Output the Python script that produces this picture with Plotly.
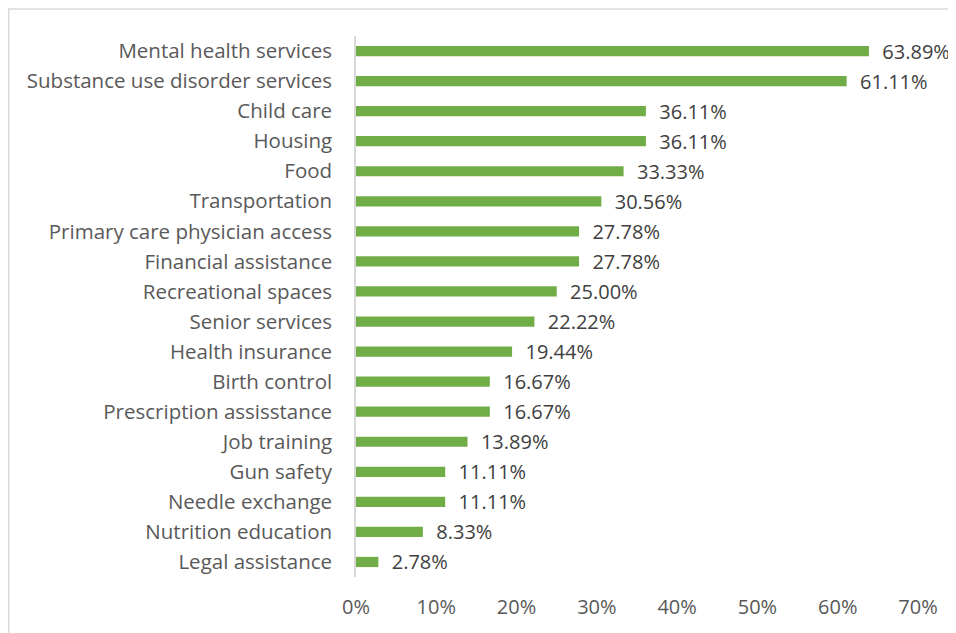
import plotly.graph_objects as go

categories = [
    'Mental health services', 'Substance use disorder services', 'Child care',
    'Housing', 'Food', 'Transportation', 'Primary care physician access',
    'Financial assistance', 'Recreational spaces', 'Senior services',
    'Health insurance', 'Birth control', 'Prescription assisstance',
    'Job training', 'Gun safety', 'Needle exchange', 'Nutrition education',
    'Legal assistance',
]
values = [63.89, 61.11, 36.11, 36.11, 33.33, 30.56, 27.78, 27.78, 25.00,
          22.22, 19.44, 16.67, 16.67, 13.89, 11.11, 11.11, 8.33, 2.78]
tick_vals = [0, 10, 20, 30, 40, 50, 60, 70]
tick_text = ['0%', '10%', '20%', '30%', '40%', '50%', '60%', '70%']

FONT = 'Open Sans'

fig = go.Figure()
fig.add_trace(go.Bar(
    x=values, y=categories, orientation='h',
    marker=dict(color='#70AD47', line=dict(width=0)),
    width=0.34,
    text=[f'{v:.2f}%' for v in values],
    texttemplate='  %{text}',
    textposition='outside',
    constraintext='none',
    textfont=dict(family=FONT, size=20, color='#404040'),
    cliponaxis=False,
))

fig.update_layout(
    width=948, height=625,
    margin=dict(l=348, r=38, t=28, b=56),
    paper_bgcolor='white', plot_bgcolor='white',
    showlegend=False,
    font=dict(family=FONT, color='#595959'),
    xaxis=dict(range=[0, 70], tickmode='array', tickvals=tick_vals,
               ticktext=tick_text,
               showgrid=False, zeroline=False, showline=False,
               tickfont=dict(size=20, color='#595959'),
               ticklabelstandoff=16),
    yaxis=dict(autorange='reversed', showgrid=False, zeroline=False,
               showline=True, linecolor='#D9D9D9', linewidth=1.5,
               tickfont=dict(size=20.5, color='#595959'),
               ticklabelstandoff=18),
    shapes=[dict(type='rect', xref='paper', yref='paper',
                 x0=-0.618, x1=1.08, y0=-0.2, y1=1.0499,
                 line=dict(color='#D9D9D9', width=1.5))],
)

fig.write_html("out.html")
